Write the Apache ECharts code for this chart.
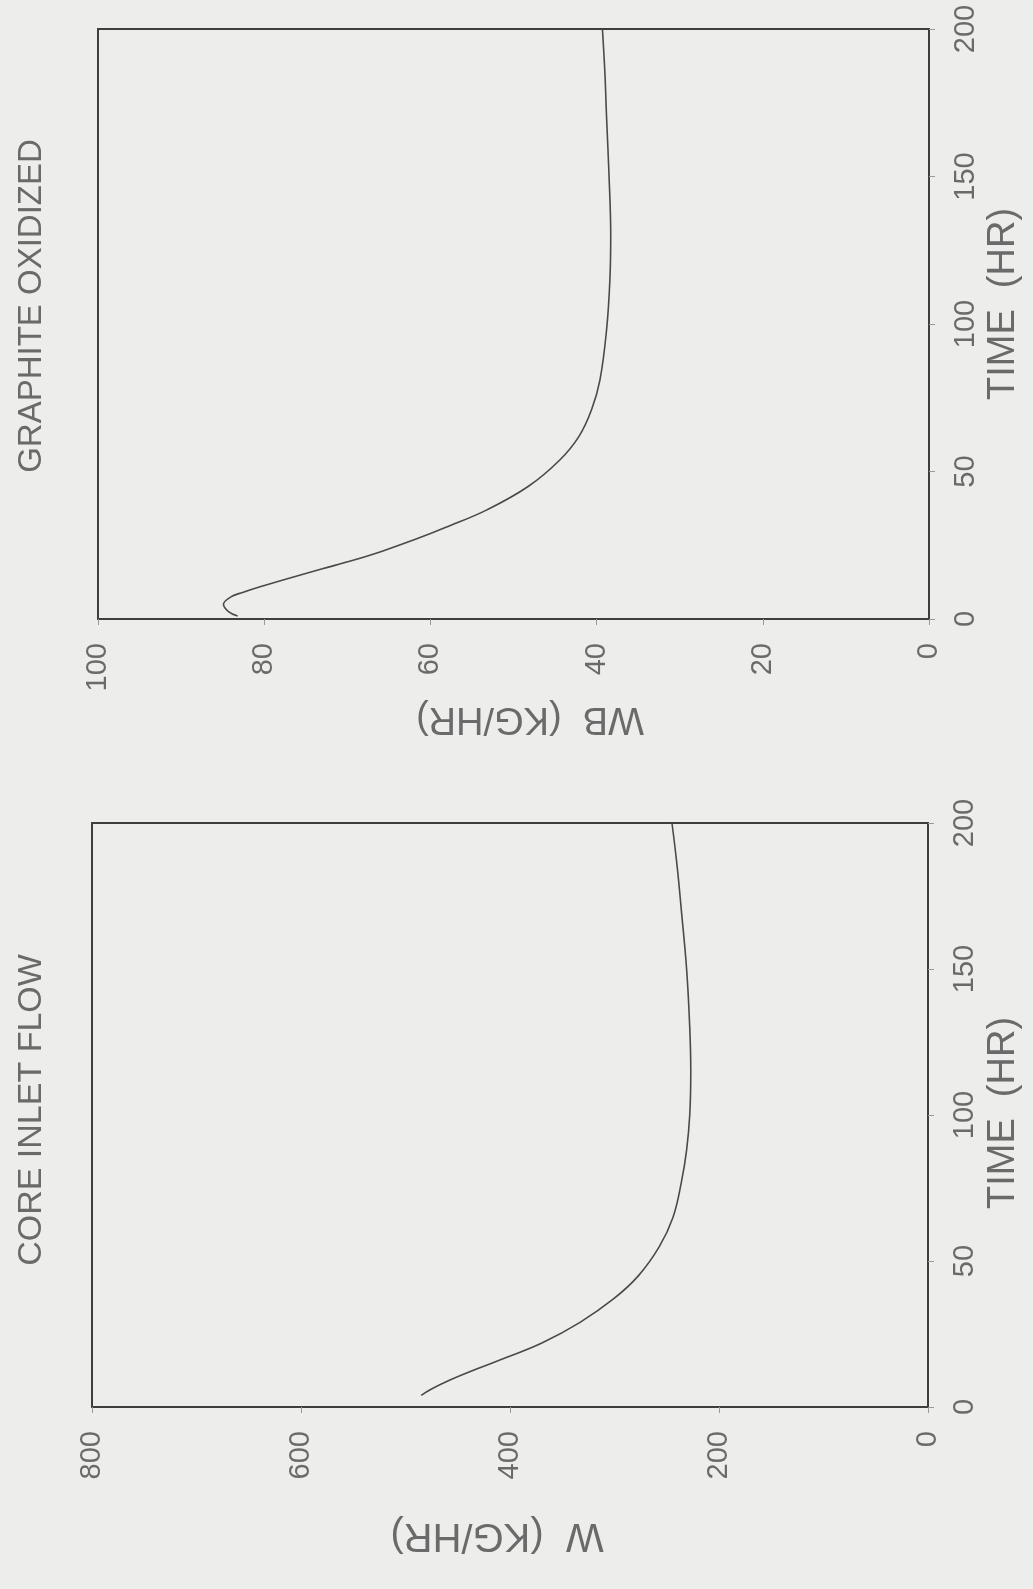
<!DOCTYPE html>
<html>
<head>
<meta charset="utf-8">
<script src="https://cdn.jsdelivr.net/npm/echarts@6/dist/echarts.min.js"></script>
<style>
html, body { margin: 0; padding: 0; background: #ededeb; }
#chart { width: 1033px; height: 1589px; }
</style>
</head>
<body>
<div id="chart"></div>
<script>
// lower panel - core inlet flow W (kg/hr) vs time (hr)
var coreTime = [4, 6, 9, 13, 17, 22, 29, 37, 45, 55, 65, 77, 88, 100, 115, 130, 150, 170, 185, 200];
var coreFlow = [485, 476, 459, 432, 403, 369, 333, 301, 277, 257, 244, 236, 231, 228, 227, 228, 231, 236, 240, 245];

// upper panel - graphite oxidized WB (kg/hr) vs time (hr)
var oxTime = [1, 2.5, 5, 7.5, 9, 11, 14, 17, 20, 23, 27, 31, 37, 45, 54, 62, 71, 81, 98, 115, 130, 150, 170, 185, 200];
var oxRate = [83.2, 84.3, 84.9, 84.0, 82.6, 80.4, 76.8, 73.0, 69.2, 65.8, 61.8, 58.2, 53.2, 48.2, 44.4, 42.1, 40.6, 39.6, 38.8, 38.4, 38.3, 38.5, 38.8, 39.0, 39.3];

var titles = ['GRAPHITE OXIDIZED', 'CORE INLET FLOW'];
var flowNames = ['WB  (KG/HR)', 'W  (KG/HR)'];
var timeName = 'TIME  (HR)';

var ink = '#3e3e3e';
var txt = '#6a6a6a';
var face = 'Liberation Sans';

function pairs(t, w) {
    return t.map(function(v, i) { return [w[i], v]; });
}

function timeAxis(g) {
    return {
        type: 'value', gridIndex: g, position: 'right',
        min: 0, max: 200, interval: 50,
        axisLine: { show: true, lineStyle: { color: ink, width: 2 } },
        axisTick: { show: true, length: 6, lineStyle: { color: '#9a9a9a' } },
        axisLabel: { rotate: 90, margin: 22, fontSize: 29, color: txt, fontFamily: face },
        splitLine: { show: false }
    };
}

function flowAxis(g, max, step) {
    return {
        type: 'value', gridIndex: g, position: 'bottom', inverse: true,
        min: 0, max: max, interval: step,
        axisLine: { show: true, lineStyle: { color: ink, width: 2 } },
        axisTick: { show: true, length: 6, lineStyle: { color: '#9a9a9a' } },
        axisLabel: { rotate: 90, margin: 24, fontSize: 29, color: txt, fontFamily: face },
        splitLine: { show: false }
    };
}

function label(text, x, y, rot, size) {
    return {
        type: 'text', x: x, y: y, rotation: rot,
        style: {
            text: text, fill: txt, font: size + 'px "' + face + '"',
            align: 'center', verticalAlign: 'middle',
            textAlign: 'center', textVerticalAlign: 'middle'
        }
    };
}

var chart = echarts.init(document.getElementById('chart'));
chart.setOption({
    backgroundColor: '#ededeb',
    animation: false,
    grid: [
        { left: 98, top: 29, width: 831, height: 590, show: true, borderColor: ink, borderWidth: 2 },
        { left: 92, top: 823, width: 836, height: 584, show: true, borderColor: ink, borderWidth: 2 }
    ],
    xAxis: [flowAxis(0, 100, 20), flowAxis(1, 800, 200)],
    yAxis: [timeAxis(0), timeAxis(1)],
    graphic: [
        label(titles[0], 32, 306, Math.PI / 2, 33),
        label(titles[1], 32, 1110, Math.PI / 2, 34),
        label(timeName, 1004, 304, Math.PI / 2, 38),
        label(timeName, 1004, 1113, Math.PI / 2, 38),
        label(flowNames[0], 530, 718, Math.PI, 38),
        label(flowNames[1], 497, 1535, Math.PI, 40)
    ],
    series: [
        {
            type: 'line', xAxisIndex: 0, yAxisIndex: 0,
            data: pairs(oxTime, oxRate), smooth: 0.4, showSymbol: false,
            lineStyle: { color: '#4a4a4a', width: 1.6 }
        },
        {
            type: 'line', xAxisIndex: 1, yAxisIndex: 1,
            data: pairs(coreTime, coreFlow), smooth: 0.4, showSymbol: false,
            lineStyle: { color: '#4a4a4a', width: 1.6 }
        }
    ]
});
</script>
</body>
</html>
